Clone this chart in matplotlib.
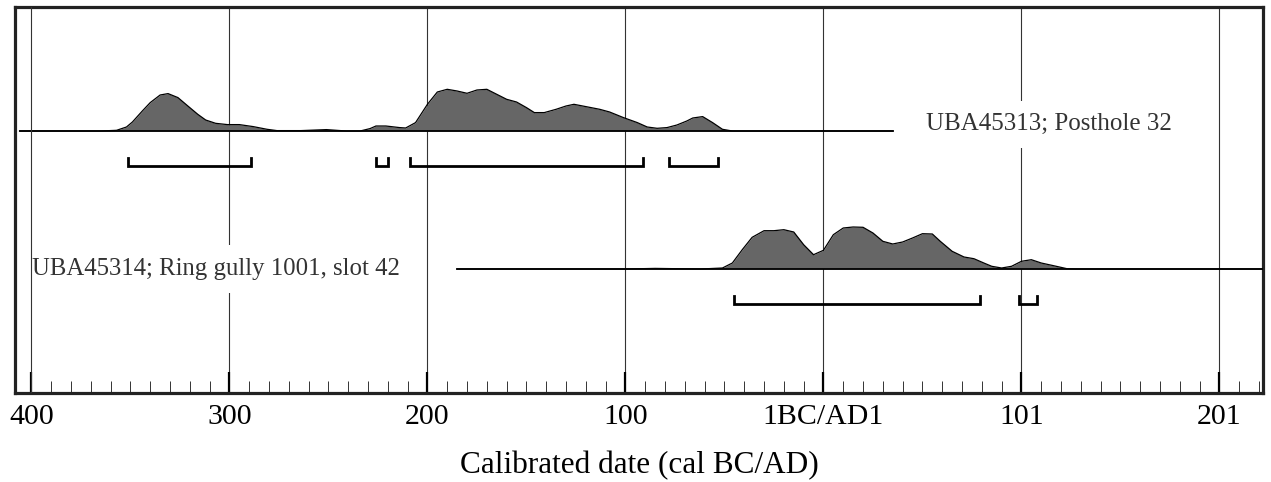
import numpy as np
import matplotlib.pyplot as plt

# Fuentes serif (tipo Times / Garamond)
plt.rcParams['font.family'] = ['Liberation Serif', 'DejaVu Serif']

# Etiquetas del eje x (años, BC negativos; 0 = 1BC/AD1)
tick_years = [-400, -300, -200, -100, 0, 100, 200]
tick_labels = ['400', '300', '200', '100', '1BC/AD1', '101', '201']

# UBA45313; Posthole 32 - distribución calibrada (probabilidad relativa)
years_313 = [-406, -365, -357, -352, -349, -344, -340, -335, -331, -326, -321,
             -316, -312, -307, -301, -295, -288, -281, -276, -264, -251, -241,
             -234, -229, -226, -221, -214, -211, -206, -200, -195, -190, -185,
             -180, -175, -170, -165, -160, -155, -150, -146, -141, -135, -130,
             -126, -120, -113, -108, -101, -94, -89, -84, -79, -74, -69, -66,
             -61, -56, -51, -46, 35]
prob_313 = [0, 0, 0.7, 4, 9, 20, 28.4, 36, 37.4, 33.4, 25, 16.7, 11, 7.7, 6.4,
            6.4, 4.4, 1.7, 0.4, 0.4, 1.4, 0, 0, 2.4, 5, 5, 3.4, 3, 8.4, 26.7, 39,
            41.7, 40, 37.7, 41, 41.7, 36.7, 31.7, 29, 23.4, 18.4, 18.4, 21.7, 25,
            26.7, 24.4, 21.7, 19, 13.4, 8.4, 4, 2.7, 3.4, 6, 10, 13, 14.4, 8.4,
            1.7, 0, 0]
ranges_313 = [(-351, -289), (-226, -220), (-209, -91), (-78, -53)]

# UBA45314; Ring gully 1001, slot 42
years_314 = [-185, -100, -85, -70, -62, -51, -46, -41, -36, -30, -25, -20, -15,
             -10, -5, 0, 5, 10, 15, 20, 25, 30, 35, 40, 45, 50, 55, 59, 65, 71,
             76, 81, 85, 90, 95, 100, 105, 110, 116, 123, 128, 223]
prob_314 = [0, 0, 0.6, 0.2, 0, 1, 6, 19.3, 31.7, 38.3, 38.3, 39.3, 37, 24.3,
            14.3, 18.7, 34.3, 41, 42, 41.7, 36, 27.7, 25, 27, 31, 35.3, 35, 27.7,
            17.7, 12, 10.3, 6, 2.7, 1, 2.7, 7.7, 9.3, 6, 3.4, 0.3, 0, 0]
ranges_314 = [(-45, 79), (99, 108)]

sample_names = ['UBA45313; Posthole 32', 'UBA45314; Ring gully 1001, slot 42']

# Figura y ejes
fig = plt.figure(figsize=(12.71, 4.82), dpi=100)
ax = fig.add_axes([15 / 1271, 89 / 482, 1248 / 1271, 386 / 482])
ax.set_xlim(-408.3, 222.0)
ax.set_ylim(0, 386)

# Líneas verticales de la rejilla
for t in tick_years:
    ax.axvline(t, color='#333333', lw=0.8, zorder=1 if t != -400 else 5)

# Filas: línea base de cada muestra
bases = [262, 124]
bracket_drop = 35
samples = [(years_313, prob_313, ranges_313), (years_314, prob_314, ranges_314)]

for base, (yrs, prob, rngs) in zip(bases, samples):
    yrs = np.array(yrs)
    prob = np.array(prob)
    ax.fill_between(yrs, base, base + prob, color='#666666', lw=0, zorder=2)
    ax.plot(yrs, base + prob, color='black', lw=0.9, zorder=3)
    ax.plot([yrs[0], yrs[-1]], [base, base], color='black', lw=1.3, zorder=3)
    # Corchetes de los rangos de probabilidad
    yb = base - bracket_drop
    for a, b in rngs:
        ax.plot([a, a, b, b], [yb + 8, yb, yb, yb + 8], color='black', lw=2,
                solid_joinstyle='miter', zorder=3)

# Textos de las muestras con fondo blanco
ax.text(52, 263, sample_names[0], fontsize=18, color='#333333', ha='left',
        va='baseline', zorder=4,
        bbox=dict(facecolor='white', edgecolor='none', pad=9))
ax.text(-399.5, 118, sample_names[1], fontsize=17.8, color='#333333', ha='left',
        va='baseline', zorder=4,
        bbox=dict(facecolor='white', edgecolor='none', pad=9))

# Ejes y ticks
ax.set_yticks([])
ax.set_xticks(tick_years)
ax.set_xticklabels(tick_labels, fontsize=21.5)
ax.set_xticks(np.arange(-400, 221, 10), minor=True)
ax.tick_params(axis='x', which='major', direction='in', length=15, width=1.6,
               pad=8, color='black')
ax.tick_params(axis='x', which='minor', direction='in', length=8.5, width=0.7,
               color='#333333')
ax.set_xlabel('Calibrated date (cal BC/AD)', fontsize=22.5, labelpad=15)

for s in ax.spines.values():
    s.set_linewidth(2.3)
    s.set_color('#222222')

fig.savefig('out.png', dpi=100)
